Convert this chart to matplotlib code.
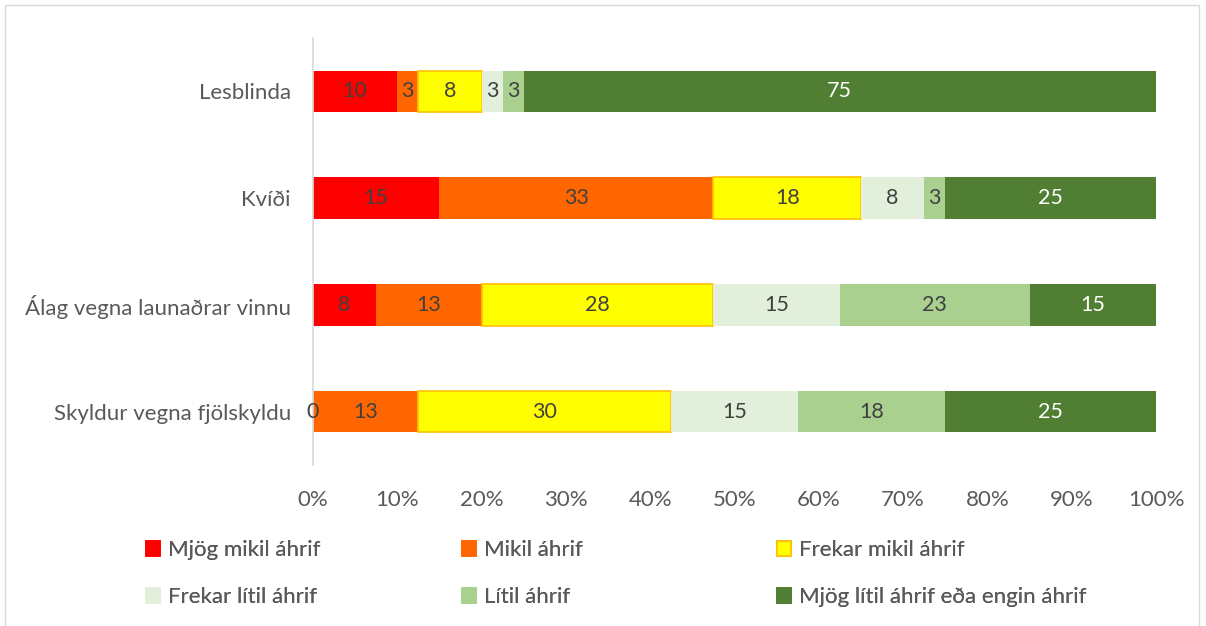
import numpy as np
import matplotlib.pyplot as plt
from matplotlib.patches import Patch
import matplotlib.patches as mpatches

plt.rcParams['font.family'] = ['Lato', 'DejaVu Sans']

# Gögn (hlutfall svarenda, %)
flokkar = ['Lesblinda', 'Kvíði', 'Álag vegna launaðrar vinnu', 'Skyldur vegna fjölskyldu']
mjog_mikil = [10, 15, 7.5, 0]
mikil = [2.5, 32.5, 12.5, 12.5]
frekar_mikil = [7.5, 17.5, 27.5, 30]
frekar_litil = [2.5, 7.5, 15, 15]
litil = [2.5, 2.5, 22.5, 17.5]
mjog_litil = [75, 25, 15, 25]

raðir = [mjog_mikil, mikil, frekar_mikil, frekar_litil, litil, mjog_litil]
heiti = ['Mjög mikil áhrif', 'Mikil áhrif', 'Frekar mikil áhrif',
         'Frekar lítil áhrif', 'Lítil áhrif', 'Mjög lítil áhrif eða engin áhrif']
litir = ['#FF0000', '#FF6600', '#FFFF00', '#E2EFDA', '#A9D08E', '#507E32']
kantar = ['none', 'none', '#FFC000', 'none', 'none', 'none']
textalitir = ['#404040'] * 5 + ['white']

fig = plt.figure(figsize=(12.06, 6.26), dpi=100)
ax = fig.add_axes([313 / 1206, 1 - 465 / 626, (1156 - 313) / 1206, 427 / 626])

y = np.arange(len(flokkar))[::-1]
vinstri = np.zeros(len(flokkar))
for vals, lit, kant, tl, nafn in zip(raðir, litir, kantar, textalitir, heiti):
    vals = np.array(vals, dtype=float)
    bars = ax.barh(y, vals, left=vinstri, height=0.39, color=lit,
                   edgecolor=kant, linewidth=1.2, label=nafn)
    merki = [str(int(np.floor(v + 0.5))) for v in vals]
    ax.bar_label(bars, labels=merki, label_type='center', color=tl, fontsize=15.5)
    vinstri += vals

ax.set_xlim(0, 100)
ax.set_ylim(-0.5, 3.5)
ax.set_yticks(y)
ax.set_yticklabels(flokkar, fontsize=16, color='#595959')
ax.set_xticks(np.arange(0, 101, 10))
ax.set_xticklabels([f'{t}%' for t in range(0, 101, 10)], fontsize=16, color='#595959')
ax.tick_params(axis='both', length=0)
ax.tick_params(axis='x', pad=18)
ax.tick_params(axis='y', pad=16)
for s in ['top', 'right', 'bottom']:
    ax.spines[s].set_visible(False)
ax.spines['left'].set_color('#D9D9D9')
ax.spines['left'].set_linewidth(1.2)

# Skýringar á föstum stöðum (3 dálkar, 2 raðir)
xpos = [146, 462, 777]
ypos = [550, 597]
for i, (nafn, lit, kant) in enumerate(zip(heiti, litir, kantar)):
    px = xpos[i % 3]
    py = ypos[i // 3]
    h = Patch(facecolor=lit, edgecolor=kant if kant != 'none' else lit, linewidth=1.2)
    leg = fig.legend(handles=[h], labels=[nafn], loc='center left',
                     bbox_to_anchor=(px / 1206, 1 - py / 626), frameon=False,
                     fontsize=16, handlelength=0.65, handleheight=0.65,
                     handletextpad=0.35, borderaxespad=0, borderpad=0,
                     labelcolor='#595959')
    fig.add_artist(leg)

# Rammi utan um myndina
fig.add_artist(mpatches.Rectangle((5 / 1206, -0.01), 1194 / 1206, 1 - 5 / 626 + 0.01,
                                  transform=fig.transFigure, fill=False,
                                  edgecolor='#D9D9D9', linewidth=1))

fig.savefig('out.png', dpi=100)
